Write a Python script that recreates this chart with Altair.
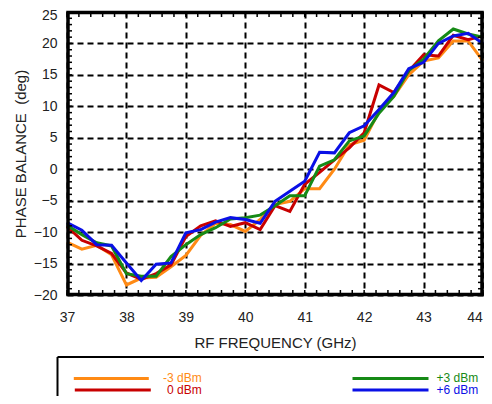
import altair as alt
import pandas as pd
import numpy as np

# ---------------- data ----------------
freq = [37.0, 37.25, 37.5, 37.75, 38.0, 38.25, 38.5, 38.75, 39.0, 39.25,
        39.5, 39.75, 40.0, 40.25, 40.5, 40.75, 41.0, 41.25, 41.5, 41.75,
        42.0, 42.25, 42.5, 42.75, 43.0, 43.25, 43.5, 43.75, 44.0]

m3dbm = [-11.6, -12.7, -12.1, -13.6, -18.4, -17.3, -17.2, -15.5, -13.7, -10.5,
         -8.6, -8.8, -9.9, -8.0, -5.6, -5.1, -3.1, -3.1, 0.0, 3.9,
         4.6, 9.2, 11.6, 15.0, 17.2, 17.7, 20.4, 20.4, 17.2]

p0dbm = [-9.1, -11.3, -12.2, -13.4, -16.5, -17.5, -16.6, -15.2, -10.7, -9.0,
         -8.2, -9.1, -8.5, -9.6, -5.8, -6.7, -2.4, -0.5, 1.5, 3.4,
         5.8, 13.4, 12.2, 15.6, 18.2, 18.0, 21.3, 20.6, 21.2]

p3dbm = [-8.9, -10.4, -11.7, -12.2, -16.6, -17.0, -17.0, -13.9, -12.0, -10.4,
         -9.3, -7.9, -7.7, -7.3, -5.8, -4.2, -4.2, 0.5, 1.5, 4.5,
         5.3, 8.9, 11.6, 15.7, 17.5, 20.4, 22.3, 21.5, 21.0]

p6dbm = [-8.5, -9.7, -12.0, -12.1, -14.9, -17.7, -15.1, -14.9, -10.1, -9.6,
         -8.4, -7.7, -8.0, -8.6, -5.1, -3.5, -1.9, 2.7, 2.6, 5.8,
         6.9, 9.5, 12.2, 16.0, 17.0, 20.0, 21.2, 21.6, 20.0]

series_names = ["-3 dBm", "0 dBm", "+3 dBm", "+6 dBm"]
series_colors = ["#FF8A14", "#C80000", "#168A16", "#0A10E6"]
series_values = [m3dbm, p0dbm, p3dbm, p6dbm]

x_ticks = [37, 38, 39, 40, 41, 42, 43, 44]
y_ticks = [-20, -15, -10, -5, 0, 5, 10, 15, 20, 25]
x_title = "RF FREQUENCY (GHz)"
y_title = "PHASE BALANCE\u00a0 (deg)"

# ---------------- layout ----------------
W, H = 416, 283
FONT = "Liberation Sans"
TXT = "#222222"

rows = []
for name, vals in zip(series_names, series_values):
    for f, v in zip(freq, vals):
        rows.append({"freq": f, "phase": v, "series": name})
df = pd.DataFrame(rows)

xscale = alt.Scale(domain=[37, 44], nice=False, zero=False)
yscale = alt.Scale(domain=[-20, 25], nice=False, zero=False)
cscale = alt.Scale(domain=series_names, range=series_colors)

xaxis = alt.Axis(values=x_ticks, format="d", title=x_title, grid=True,
                 gridColor="black", gridDash=[6, 4], gridWidth=2, gridOpacity=1,
                 ticks=False, domain=False, labelPadding=15, labelFontSize=14,
                 labelFont=FONT, labelColor=TXT, labelFlush=False, labelOverlap=False,
                 labelOffset={"condition": {"test": "datum.value == 44", "value": -8.5}, "value": 0},
                 titleFont=FONT, titleFontSize=15, titleFontWeight="normal", titleColor=TXT,
                 titleX=W / 2, titleY=52, titleAlign="center", titleBaseline="alphabetic")
yaxis = alt.Axis(values=y_ticks, format="d", title=y_title, grid=True,
                 gridColor="black", gridDash=[6, 4], gridWidth=2, gridOpacity=1,
                 ticks=False, domain=False, labelPadding=10, labelFontSize=14,
                 labelFont=FONT, labelColor=TXT, labelFlush=False, labelOverlap=False,
                 labelOffset={"condition": {"test": "datum.value == 25", "value": 3}, "value": 0},
                 titleFont=FONT, titleFontSize=15, titleFontWeight="normal", titleColor=TXT,
                 titleX=-46.5, titleY=H / 2, titleAngle=270, titleAlign="center",
                 titleBaseline="middle")

X = lambda field: alt.X(field, scale=xscale, axis=xaxis, title=x_title)
Y = lambda field: alt.Y(field, scale=yscale, axis=yaxis, title=y_title)

base = alt.Chart(df)

layers = []
for name in series_names:
    layers.append(
        base.transform_filter(alt.datum.series == name).mark_line(strokeWidth=3).encode(
            x=X("freq:Q"),
            y=Y("phase:Q"),
            color=alt.Color("series:N", scale=cscale, legend=None),
        )
    )

# minor ticks (inside frame)
xminor = pd.DataFrame({"v": np.round(np.arange(37, 44.0001, 0.2), 2)})
yminor = pd.DataFrame({"v": np.arange(-20, 25.5, 1.0)})
tick_len = 5
for y0, y1 in [(H, H - tick_len), (0, tick_len)]:
    layers.append(alt.Chart(xminor).mark_rule(color="black", strokeWidth=1.5).encode(
        x=X("v:Q"),
        y=alt.value(y0), y2=alt.value(y1)))
for x0, x1 in [(0, tick_len), (W, W - tick_len)]:
    layers.append(alt.Chart(yminor).mark_rule(color="black", strokeWidth=1.5).encode(
        y=Y("v:Q"),
        x=alt.value(x0), x2=alt.value(x1)))

# frame
one = pd.DataFrame({"a": [0]})
layers.append(alt.Chart(one).mark_rect(
    filled=False, stroke="black", strokeWidth=3.5).encode(
    x=alt.value(1), x2=alt.value(W - 1), y=alt.value(0.5), y2=alt.value(H - 0.5)))

# legend box
layers.append(alt.Chart(one).mark_rule(color="black", strokeWidth=2).encode(
    x=alt.value(-9.5), x2=alt.value(W + 20), y=alt.value(345)))
layers.append(alt.Chart(one).mark_rule(color="black", strokeWidth=2).encode(
    x=alt.value(-9.5), y=alt.value(345), y2=alt.value(H + 130)))

leg_pos = [
    (6.8, 81.8, 366.4, 134.8, "right"),
    (7.8, 83.8, 378.0, 134.8, "right"),
    (285.5, 361.5, 366.4, 369.5, "left"),
    (285.5, 361.5, 378.0, 369.5, "left"),
]
for (x0, x1, yy, tx, al), name, col in zip(leg_pos, series_names, series_colors):
    layers.append(alt.Chart(one).mark_rule(color=col, strokeWidth=3).encode(
        x=alt.value(x0), x2=alt.value(x1), y=alt.value(yy)))
    layers.append(alt.Chart(one).mark_text(
        text=name, color=col, font=FONT, fontSize=12, align=al, baseline="middle").encode(
        x=alt.value(tx), y=alt.value(yy)))

chart = alt.layer(*layers).properties(
    width=W, height=H,
    autosize=alt.AutoSizeParams(type="none"),
    padding={"left": 59, "top": 4, "right": 1, "bottom": 101},
).configure_view(stroke=None).configure(background="white")

chart.save("out.html", embed_options={"renderer": "svg", "actions": False})
